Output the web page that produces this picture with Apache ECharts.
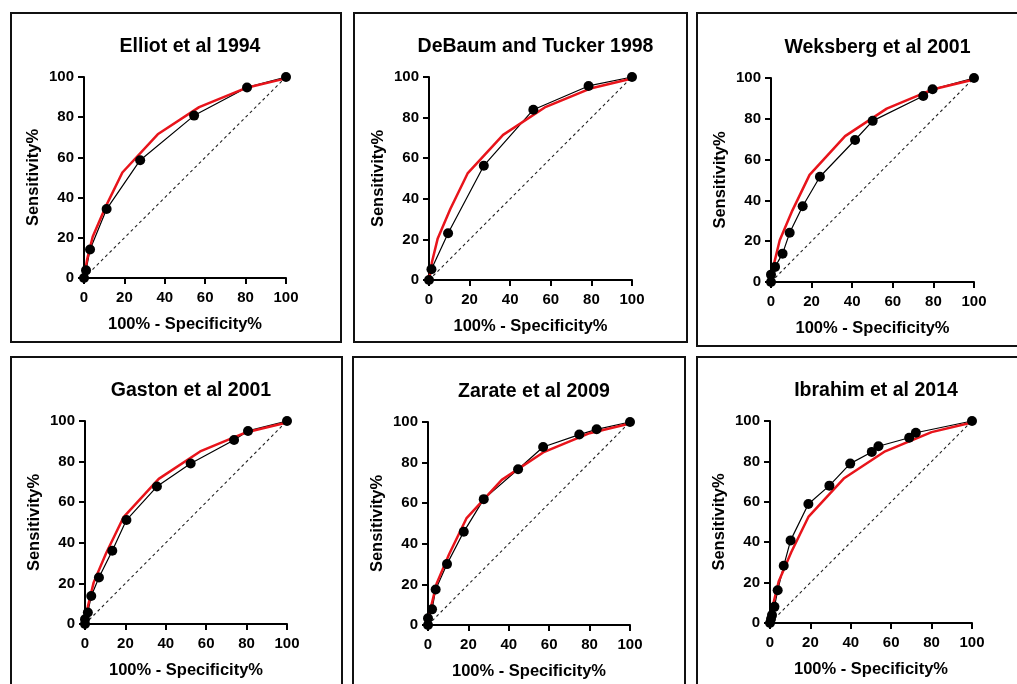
<!DOCTYPE html>
<html>
<head>
<meta charset="utf-8">
<script src="https://cdn.jsdelivr.net/npm/echarts@6/dist/echarts.min.js"></script>
<style>html,body{margin:0;padding:0;background:#fff}#c{width:1017px;height:684px}</style>
</head>
<body>
<div id="c"></div>
<script>
const titles = ['Elliot et al 1994','DeBaum and Tucker 1998','Weksberg et al 2001','Gaston et al 2001','Zarate et al 2009','Ibrahim et al 2014'];
const xName = '100% - Specificity%';
const yName = 'Sensitivity%';
const ticks = [0,20,40,60,80,100];

// reference (red) curve, shared by all panels
const refX = [0, 1.5, 4.3, 10.5, 19, 36.5, 57, 80, 100];
const refY = [0, 9, 20.5, 35, 52.5, 71.5, 85, 94.5, 99.3];

// study curves
const elliotX = [0, 1, 3, 11.2, 27.8, 54.5, 80.7, 100];
const elliotY = [0, 3.8, 14.2, 34.3, 58.6, 80.8, 94.8, 100];
const debaumX = [0, 1.2, 9.4, 27, 51.4, 78.6, 100];
const debaumY = [0, 5.3, 23, 56.3, 83.9, 95.6, 100];
const weksbergX = [0, 0, 2, 5.7, 9.2, 15.6, 24.1, 41.4, 50.1, 75, 79.6, 100];
const weksbergY = [0, 3.6, 7.4, 13.9, 24.1, 37.1, 51.6, 69.6, 79, 91.2, 94.5, 100];
const gastonX = [0, 0, 1.4, 3.1, 6.9, 13.5, 20.5, 35.6, 52.3, 73.8, 80.7, 100];
const gastonY = [0, 2.3, 5.7, 13.8, 22.9, 36.1, 51.2, 67.7, 79.1, 90.6, 95.1, 100];
const zarateX = [0, 0, 2, 3.8, 9.4, 17.7, 27.6, 44.6, 57, 74.9, 83.5, 100];
const zarateY = [0, 3.3, 7.7, 17.5, 30, 45.9, 62, 76.7, 87.7, 93.8, 96.4, 100];
const ibrahimX = [0, 0.5, 1, 2.2, 3.8, 6.8, 10.2, 19, 29.4, 39.7, 50.4, 53.7, 68.9, 72.2, 100];
const ibrahimY = [0, 2, 4, 8, 16.2, 28.3, 40.9, 58.9, 68, 78.9, 84.7, 87.5, 91.7, 94.2, 100];

const studiesX = [elliotX, debaumX, weksbergX, gastonX, zarateX, ibrahimX];
const studiesY = [elliotY, debaumY, weksbergY, gastonY, zarateY, ibrahimY];

const grids = [
  {left:84, top:77, width:202, height:201},
  {left:429, top:77, width:203, height:203},
  {left:771, top:78, width:203, height:204},
  {left:85, top:421, width:202, height:203},
  {left:428, top:422, width:202, height:203},
  {left:770, top:421, width:202, height:202}
];
const boxes = [
  [11,13,330,329],[354,13,333,329],[697,13,340,333],
  [11,357,331,340],[353,357,332,340],[697,357,340,340]
];

const FONT = '"Liberation Sans", Arial, Helvetica, sans-serif';
const zip = (xs, ys) => xs.map((x,i)=>[x, ys[i]]);

const option = {
  animation:false,
  backgroundColor:'#fff',
  title: grids.map((g,i)=>({
    text: titles[i], left: g.left + g.width/2, top: g.top - 45, textAlign:'center',
    textStyle:{fontFamily:FONT, fontWeight:'bold', fontSize:19.5, color:'#000'}
  })),
  grid: grids.map(g=>Object.assign({containLabel:false}, g)),
  xAxis: grids.map((g,i)=>({
    type:'value', gridIndex:i, min:0, max:100, interval:20,
    name:xName, nameLocation:'middle', nameGap:38,
    nameTextStyle:{fontFamily:FONT, fontWeight:'bold', fontSize:16.5, color:'#000'},
    axisLine:{show:true, onZero:false, lineStyle:{color:'#000', width:2}},
    axisTick:{show:true, inside:false, length:6, lineStyle:{color:'#000', width:2}},
    axisLabel:{margin:12, fontFamily:FONT, fontWeight:'bold', fontSize:15, color:'#000'},
    splitLine:{show:false}
  })),
  yAxis: grids.map((g,i)=>({
    type:'value', gridIndex:i, min:0, max:100, interval:20,
    name:yName, nameLocation:'middle', nameGap:42,
    nameTextStyle:{fontFamily:FONT, fontWeight:'bold', fontSize:16.5, color:'#000'},
    axisLine:{show:true, onZero:false, lineStyle:{color:'#000', width:2}},
    axisTick:{show:true, inside:false, length:6, lineStyle:{color:'#000', width:2}},
    axisLabel:{margin:10, fontFamily:FONT, fontWeight:'bold', fontSize:15, color:'#000'},
    splitLine:{show:false}
  })),
  graphic: boxes.map(b=>({
    type:'rect', shape:{x:b[0], y:b[1], width:b[2], height:b[3]},
    style:{fill:null, stroke:'#111', lineWidth:2}, silent:true, z:-1
  })),
  series: []
};

grids.forEach((g,i)=>{
  option.series.push({
    type:'line', xAxisIndex:i, yAxisIndex:i, data:[[0,0],[100,100]],
    showSymbol:false, symbol:'none', clip:false, z:1,
    lineStyle:{color:'#222', width:1.1, type:[3,3]}
  });
  option.series.push({
    type:'line', xAxisIndex:i, yAxisIndex:i, data:zip(studiesX[i], studiesY[i]),
    symbol:'none', clip:false, z:2,
    lineStyle:{color:'#000', width:1.2}
  });
  option.series.push({
    type:'line', xAxisIndex:i, yAxisIndex:i, data:zip(refX, refY),
    symbol:'none', clip:false, z:3,
    lineStyle:{color:'#e8141b', width:2.5}
  });
  option.series.push({
    type:'scatter', xAxisIndex:i, yAxisIndex:i, data:zip(studiesX[i], studiesY[i]),
    symbol:'circle', symbolSize:10, clip:false, z:4,
    itemStyle:{color:'#000', opacity:1}
  });
});

const chart = echarts.init(document.getElementById('c'), null, {renderer:'canvas'});
chart.setOption(option);
</script>
</body>
</html>
